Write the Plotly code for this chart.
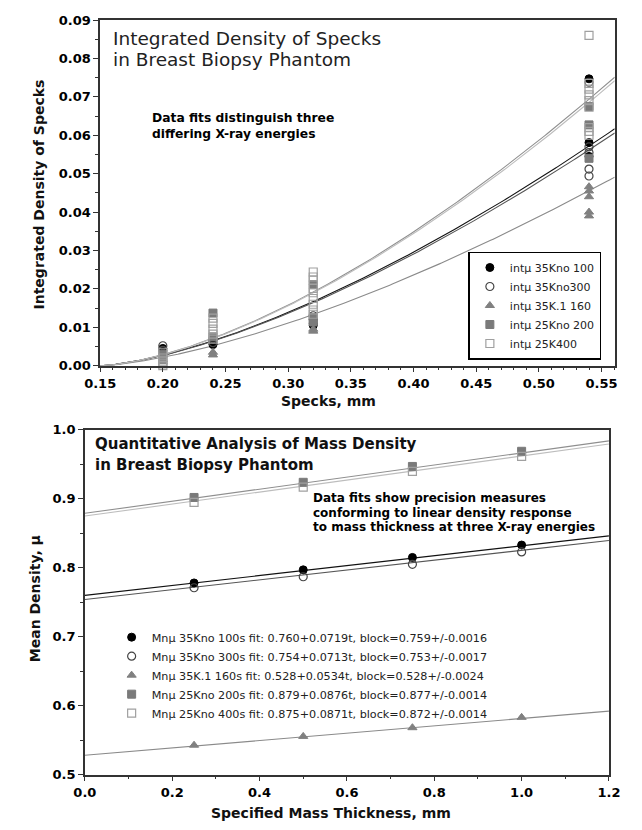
import numpy as np
import plotly.graph_objects as go

W, H = 642, 830

# ---------------- Top chart data: integrated density of specks ----------------
top_names = ["intμ 35Kno 100", "intμ 35Kno300", "intμ 35K.1 160", "intμ 25Kno 200", "intμ 25K400"]

a_x = [0.20, 0.20, 0.24, 0.24, 0.32, 0.32, 0.54, 0.54, 0.54]
a_y = [0.0030, 0.0045, 0.0065, 0.0055, 0.0120, 0.0105, 0.0747, 0.0581, 0.0545]

b_x = [0.20, 0.20, 0.24, 0.24, 0.32, 0.32, 0.54, 0.54, 0.54, 0.54, 0.54]
b_y = [0.0052, 0.0040, 0.0070, 0.0060, 0.0130, 0.0110, 0.0738, 0.0570, 0.0555, 0.0512, 0.0494]

c_x = [0.20, 0.20, 0.24, 0.24, 0.32, 0.32, 0.54, 0.54, 0.54, 0.54, 0.54]
c_y = [0.0015, 0.0010, 0.0035, 0.0028, 0.0095, 0.0090, 0.0466, 0.0455, 0.0440, 0.0400, 0.0390]

d_x = [0.20, 0.20, 0.24, 0.24, 0.32, 0.32, 0.32, 0.54, 0.54, 0.54]
d_y = [0.0020, 0.0030, 0.0137, 0.0075, 0.0211, 0.0125, 0.0115, 0.0675, 0.0627, 0.0540]

e_x = [0.20, 0.20, 0.20, 0.20, 0.20,
       0.24, 0.24, 0.24, 0.24, 0.24,
       0.32, 0.32, 0.32, 0.32, 0.32, 0.32, 0.32, 0.32, 0.32,
       0.54, 0.54, 0.54, 0.54, 0.54, 0.54, 0.54, 0.54, 0.54]
e_y = [0.0005, 0.0020, 0.0035, 0.0000, 0.0010,
       0.0124, 0.0110, 0.0095, 0.0082, 0.0069,
       0.0244, 0.0231, 0.0223, 0.0201, 0.0190, 0.0175, 0.0160, 0.0145, 0.0134,
       0.0860, 0.0735, 0.0720, 0.0705, 0.0690, 0.0673, 0.0620, 0.0610, 0.0600]

# power-law fit parameters y = a * (x - x0) ** b
top_fit_x0 = 0.15
top_fit_a = [0.231, 0.227, 0.1834, 0.2986, 0.295]
top_fit_b = [1.483, 1.483, 1.48, 1.55, 1.55]

# ---------------- Bottom chart data: mean density vs mass thickness ----------------
bot_names = [
    "Mnμ 35Kno 100s fit: 0.760+0.0719t, block=0.759+/-0.0016",
    "Mnμ 35Kno 300s fit: 0.754+0.0713t, block=0.753+/-0.0017",
    "Mnμ 35K.1 160s fit: 0.528+0.0534t, block=0.528+/-0.0024",
    "Mnμ 25Kno 200s fit: 0.879+0.0876t, block=0.877+/-0.0014",
    "Mnμ 25Kno 400s fit: 0.875+0.0871t, block=0.872+/-0.0014",
]
thickness = [0.25, 0.50, 0.75, 1.00]
bot_a = [0.778, 0.797, 0.815, 0.833]
bot_b = [0.771, 0.787, 0.805, 0.823]
bot_c = [0.5426, 0.5554, 0.568, 0.583]
bot_d = [0.902, 0.924, 0.947, 0.969]
bot_e = [0.895, 0.917, 0.940, 0.9615]
fit_intercepts = [0.760, 0.754, 0.528, 0.879, 0.875]
fit_slopes = [0.0719, 0.0713, 0.0534, 0.0876, 0.0871]

top_x_ticks = [0.15, 0.20, 0.25, 0.30, 0.35, 0.40, 0.45, 0.50, 0.55]
top_y_ticks = [0.00, 0.01, 0.02, 0.03, 0.04, 0.05, 0.06, 0.07, 0.08, 0.09]
bot_x_ticks = [0.0, 0.2, 0.4, 0.6, 0.8, 1.0, 1.2]
bot_y_ticks = [0.5, 0.6, 0.7, 0.8, 0.9, 1.0]

# ---------------- styles ----------------
marker_styles = [
    dict(symbol="circle", color="#000000", line=dict(color="#000000", width=1)),
    dict(symbol="circle-open", color="#444444", line=dict(color="#444444", width=1.2)),
    dict(symbol="triangle-up", color="#808080", line=dict(color="#808080", width=1)),
    dict(symbol="square", color="#7a7a7a", line=dict(color="#7a7a7a", width=1)),
    dict(symbol="square-open", color="#a0a0a0", line=dict(color="#a0a0a0", width=1.2)),
]
line_colors = ["#111111", "#555555", "#8a8a8a", "#8f8f8f", "#bdbdbd"]


def px(x):
    return x / W


def py(y):
    return 1 - y / H


fig = go.Figure()

top_xs = [a_x, b_x, c_x, d_x, e_x]
top_ys = [a_y, b_y, c_y, d_y, e_y]

x_top_min, x_top_max = 0.15, 0.5605
xx = np.linspace(x_top_min, x_top_max, 200)
for i in range(5):
    yy = top_fit_a[i] * (xx - top_fit_x0) ** top_fit_b[i]
    fig.add_trace(go.Scatter(x=xx, y=yy, mode="lines", xaxis="x", yaxis="y",
                             line=dict(color=line_colors[i], width=1.1),
                             showlegend=False, hoverinfo="skip"))
for i in range(5):
    fig.add_trace(go.Scatter(x=top_xs[i], y=top_ys[i], mode="markers", name=top_names[i],
                             xaxis="x", yaxis="y", legend="legend", cliponaxis=False,
                             marker=dict(size=8, **marker_styles[i])))

bot_ys = [bot_a, bot_b, bot_c, bot_d, bot_e]
tt = np.array([0.0, 1.2])
for i in range(5):
    fig.add_trace(go.Scatter(x=tt, y=fit_intercepts[i] + fit_slopes[i] * tt, mode="lines",
                             xaxis="x2", yaxis="y2",
                             line=dict(color=line_colors[i], width=1.1),
                             showlegend=False, hoverinfo="skip"))
for i in range(5):
    fig.add_trace(go.Scatter(x=thickness, y=bot_ys[i], mode="markers", name=bot_names[i],
                             xaxis="x2", yaxis="y2", legend="legend2", cliponaxis=False,
                             marker=dict(size=8, **marker_styles[i])))

tickfont = dict(family="DejaVu Sans", size=13, color="#000000", weight="bold")
common_axis = dict(showgrid=False, zeroline=False, showline=True, linecolor="#333333",
                   linewidth=1.5, mirror=True, ticks="outside", ticklen=5, tickwidth=1.2,
                   tickcolor="#333333", tickfont=tickfont)

fig.update_layout(
    width=W, height=H,
    margin=dict(l=0, r=0, t=0, b=0),
    paper_bgcolor="white", plot_bgcolor="white",
    font=dict(family="DejaVu Sans", color="#000000"),
    xaxis=dict(domain=[px(88), px(626)], range=[x_top_min, x_top_max], anchor="y",
               tickvals=top_x_ticks, tickformat=".2f",
               minor=dict(dtick=0.01, tick0=0.15, ticks="outside", ticklen=3, tickcolor="#333333"),
               **common_axis),
    yaxis=dict(domain=[py(365.3), py(13.3)], range=[0, 0.09], anchor="x",
               tickvals=top_y_ticks, tickformat=".2f",
               minor=dict(dtick=0.005, tick0=0, ticks="outside", ticklen=3, tickcolor="#333333"),
               **common_axis),
    xaxis2=dict(domain=[px(72), px(620)], range=[0, 1.2], anchor="y2",
                tickvals=bot_x_ticks, tickformat=".1f",
                minor=dict(dtick=0.1, tick0=0, ticks="outside", ticklen=3, tickcolor="#333333"),
                **common_axis),
    yaxis2=dict(domain=[py(781.7), py(430.7)], range=[0.5, 1.0], anchor="x2",
                tickvals=bot_y_ticks, tickformat=".1f",
                minor=dict(dtick=0.05, tick0=0.5, ticks="outside", ticklen=3, tickcolor="#333333"),
                **common_axis),
    legend=dict(x=px(473), y=py(249), xanchor="left", yanchor="top",
                bgcolor="white", bordercolor="#000000", borderwidth=1.5,
                font=dict(family="DejaVu Sans", size=11, color="#222222"),
                tracegroupgap=0, itemwidth=30),
    legend2=dict(x=px(100), y=py(627), xanchor="left", yanchor="top",
                 bgcolor="rgba(0,0,0,0)", borderwidth=0,
                 font=dict(family="DejaVu Sans", size=11.2, color="#222222"),
                 tracegroupgap=0, itemwidth=30),
    showlegend=True,
)

annos = [
    # top chart title lines
    dict(text="Integrated Density of Specks", x=99, y=32, size=18.5, bold=False, color="#222222"),
    dict(text="in Breast Biopsy Phantom", x=99, y=53, size=18.5, bold=False, color="#222222"),
    dict(text="Data fits distinguish three", x=140, y=112.7, size=12.3, bold=True, color="#000000"),
    dict(text="differing X-ray energies", x=140, y=129, size=12.3, bold=True, color="#000000"),
    # bottom chart title lines
    dict(text="Quantitative Analysis of Mass Density", x=80, y=445, size=15, bold=True, color="#111111"),
    dict(text="in Breast Biopsy Phantom", x=80, y=466.7, size=15, bold=True, color="#111111"),
    dict(text="Data fits show precision measures", x=308, y=500, size=12, bold=True, color="#000000"),
    dict(text="conforming to linear density response", x=308, y=515, size=12, bold=True, color="#000000"),
    dict(text="to mass thickness at three X-ray energies", x=308, y=530, size=12, bold=True, color="#000000"),
]
for a in annos:
    fig.add_annotation(text=a["text"], xref="paper", yref="paper", x=px(a["x"]), y=py(a["y"]),
                       xanchor="left", yanchor="middle", showarrow=False,
                       font=dict(family="DejaVu Sans", size=a["size"], color=a["color"],
                                 weight="bold" if a["bold"] else "normal"))

# axis titles
axis_titles = [
    dict(text="Specks, mm", x=327, y=401, angle=0),
    dict(text="Integrated Density of Specks", x=24, y=191, angle=-90),
    dict(text="Specified Mass Thickness, mm", x=329, y=821, angle=0),
    dict(text="Mean Density, μ", x=20, y=603, angle=-90),
]
for a in axis_titles:
    fig.add_annotation(text=a["text"], xref="paper", yref="paper", x=px(a["x"]), y=py(a["y"]),
                       xanchor="center", yanchor="middle", showarrow=False, textangle=a["angle"],
                       font=dict(family="DejaVu Sans", size=14, color="#111111", weight="bold"))

fig.write_html("out.html",
               config={"displayModeBar": False},
               post_script="document.body.style.margin='0';document.body.style.overflow='hidden';")
